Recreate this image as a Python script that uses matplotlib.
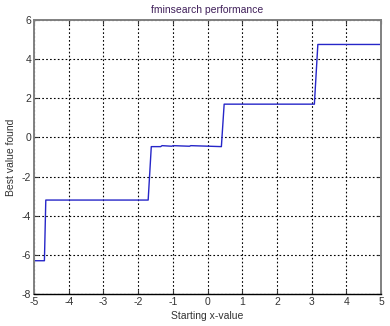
import matplotlib
matplotlib.use("Agg")
import matplotlib.pyplot as plt

plt.rcParams['font.family'] = ['Liberation Sans', 'DejaVu Sans']
plt.rcParams['axes.unicode_minus'] = False

# Sampled curve (starting x-value, best value found)
x_start = [-5.0, -4.70, -4.66, -1.71, -1.62, -1.35, -1.31, -1.03, -0.99,
           -0.52, -0.48, 0.40, 0.48, 3.08, 3.18, 5.0]
best_val = [-6.3, -6.3, -3.2, -3.2, -0.47, -0.47, -0.42, -0.45, -0.42,
            -0.45, -0.42, -0.47, 1.7, 1.7, 4.75, 4.75]

x_ticks = [-5, -4, -3, -2, -1, 0, 1, 2, 3, 4, 5]
y_ticks = [-8, -6, -4, -2, 0, 2, 4, 6]

fig = plt.figure(figsize=(3.9, 3.26), dpi=100)
ax = fig.add_axes([34/390, 32/326, 347/390, 274/326])

ax.plot(x_start, best_val, color='#2626c8', linewidth=1.0)

ax.set_xlim(-5, 5)
ax.set_ylim(-8, 6)
ax.set_xticks(x_ticks)
ax.set_yticks(y_ticks)
ax.grid(True, color='black', linestyle=(0, (1.5, 2)), linewidth=0.8)
ax.tick_params(direction='in', length=3, labelsize=7.5, top=True, right=True,
               pad=2, colors='#333333', labelcolor='#333333')

for s in ['left', 'top', 'right']:
    ax.spines[s].set_color('#808080')
    ax.spines[s].set_linewidth(1.4)
ax.spines['bottom'].set_color('black')
ax.spines['bottom'].set_linewidth(1.0)

ax.set_title('fminsearch performance', fontsize=7.5, color='#40205a', pad=5)
ax.set_xlabel('Starting x-value', fontsize=7.5, color='#333333', labelpad=3)
ax.set_ylabel('Best value found', fontsize=7.5, color='#333333', labelpad=4)

fig.savefig('out.png', dpi=100)
